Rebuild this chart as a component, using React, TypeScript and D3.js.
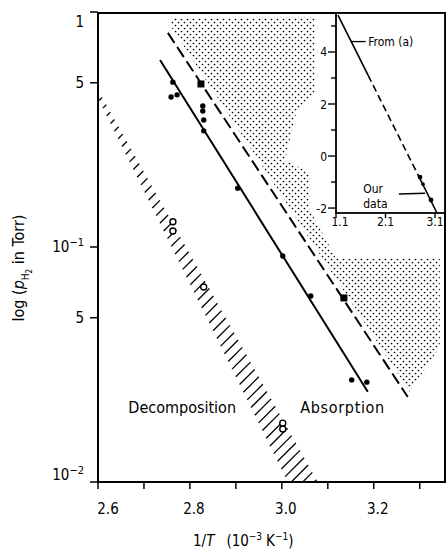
import { useEffect, useRef } from 'react';
import * as d3 from 'd3';

interface Pt {
  x: number;
  y: number;
}

// main panel: 1/T (10^-3 K^-1) against p_H2 (Torr, log)
const absorptionDots: Pt[] = [
  { x: 2.763, y: 0.503 },
  { x: 2.759, y: 0.435 },
  { x: 2.772, y: 0.444 },
  { x: 2.828, y: 0.398 },
  { x: 2.828, y: 0.379 },
  { x: 2.83, y: 0.347 },
  { x: 2.83, y: 0.312 },
  { x: 2.904, y: 0.178 },
  { x: 3.002, y: 0.0916 },
  { x: 3.063, y: 0.0619 },
  { x: 3.152, y: 0.0272 },
  { x: 3.185, y: 0.0266 },
];
const absorptionSquares: Pt[] = [
  { x: 2.824, y: 0.494 },
  { x: 3.135, y: 0.0607 },
];
const decompositionPts: Pt[] = [
  { x: 2.763, y: 0.128 },
  { x: 2.763, y: 0.117 },
  { x: 2.83, y: 0.0676 },
  { x: 3.002, y: 0.0178 },
  { x: 3.002, y: 0.0168 },
];
const absorptionFit: Pt[] = [
  { x: 2.735, y: 0.625 },
  { x: 3.187, y: 0.0242 },
];
const boundaryLine: Pt[] = [
  { x: 2.752, y: 0.815 },
  { x: 3.274, y: 0.023 },
];
// hatched decomposition band: lower-left and upper-right edges
const decompLower: Pt[] = [
  { x: 2.6, y: 0.43 },
  { x: 3.013, y: 0.01 },
];
const decompUpper: Pt[] = [
  { x: 2.6, y: 0.466 },
  { x: 3.078, y: 0.01 },
];
// dotted absorption region outline
const absorptionRegion: Pt[] = [
  { x: 2.7565, y: 0.943 },
  { x: 3.0717, y: 0.952 },
  { x: 3.0717, y: 0.457 },
  { x: 3.0326, y: 0.383 },
  { x: 3.0065, y: 0.234 },
  { x: 3.0609, y: 0.208 },
  { x: 3.0609, y: 0.1437 },
  { x: 3.0826, y: 0.1205 },
  { x: 3.1174, y: 0.0897 },
  { x: 3.3435, y: 0.0897 },
  { x: 3.3435, y: 0.0375 },
  { x: 3.2783, y: 0.0242 },
  { x: 2.7609, y: 0.855 },
];
const xTicks = [2.6, 2.7, 2.8, 2.9, 3.0, 3.1, 3.2, 3.3];
const xLabels = [2.6, 2.8, 3.0, 3.2];
const yTicks = [1, 0.5, 0.1, 0.05, 0.01];
const yLabels = ['1', '5', '10^-1', '5', '10^-2'];

// inset
const insetFromA: Pt[] = [
  { x: 1.14, y: 5.42 },
  { x: 1.75, y: 3.1 },
];
const insetExtrap: Pt[] = [
  { x: 1.75, y: 3.1 },
  { x: 2.79, y: -0.85 },
];
const insetOurFit: Pt[] = [
  { x: 2.79, y: -0.85 },
  { x: 3.14, y: -2.19 },
];
const insetDots: Pt[] = [
  { x: 2.797, y: -0.81 },
  { x: 2.858, y: -1.08 },
  { x: 3.019, y: -1.69 },
];
const insetXTicks = [1.1, 2.1, 3.1];
const insetYMajor = [4, 2, 0, -2];
const insetYMinor = [5, 3, 1, -1];

const FONT = "'DejaVu Sans Condensed', 'DejaVu Sans', sans-serif";

export default function App() {
  const svgRef = useRef<SVGSVGElement>(null);

  useEffect(() => {
    if (!svgRef.current) return;
    const svg = d3.select(svgRef.current);
    svg.selectAll('*').remove();

    const left = 98, top = 13, right = 445, bottom = 482;
    const x = d3.scaleLinear().domain([2.6, 3.355]).range([left, right]);
    const y = d3.scaleLog().domain([0.01, 1]).range([bottom, 12]);
    const line = d3.line<Pt>().x(d => x(d.x)).y(d => y(d.y));

    const defs = svg.append('defs');
    defs.append('clipPath').attr('id', 'plotClip')
      .append('rect')
      .attr('x', left).attr('y', top)
      .attr('width', right - left).attr('height', bottom - top);
    const pat = defs.append('pattern')
      .attr('id', 'dots')
      .attr('patternUnits', 'userSpaceOnUse')
      .attr('width', 6).attr('height', 6);
    pat.append('circle').attr('cx', 1.5).attr('cy', 1.5).attr('r', 0.85).attr('fill', '#000');
    pat.append('circle').attr('cx', 4.5).attr('cy', 4.5).attr('r', 0.85).attr('fill', '#000');

    const plot = svg.append('g').attr('clip-path', 'url(#plotClip)');

    // dotted absorption area
    plot.append('path')
      .datum(absorptionRegion)
      .attr('d', d3.line<Pt>().x(d => x(d.x)).y(d => y(d.y)).curve(d3.curveLinearClosed))
      .attr('fill', 'url(#dots)');

    // hatched decomposition band
    const L0 = [x(decompLower[0].x), y(decompLower[0].y)];
    const L1 = [x(decompLower[1].x), y(decompLower[1].y)];
    const U0 = [x(decompUpper[0].x), y(decompUpper[0].y)];
    const U1 = [x(decompUpper[1].x), y(decompUpper[1].y)];
    const a = (45 * Math.PI) / 180;
    const u = [Math.cos(a), -Math.sin(a)];
    const dU = [U1[0] - U0[0], U1[1] - U0[1]];
    const cross = (p: number[], q: number[]) => p[0] * q[1] - p[1] * q[0];
    const nStrokes = 50;
    const strokes = d3.range(0, nStrokes + 4).map(i => {
      const t = (i + 0.3) / nStrokes;
      const P = [L0[0] + t * (L1[0] - L0[0]), L0[1] + t * (L1[1] - L0[1])];
      const s = cross([U0[0] - P[0], U0[1] - P[1]], dU) / cross(u, dU);
      return { x1: P[0], y1: P[1], x2: P[0] + s * u[0], y2: P[1] + s * u[1] };
    });
    plot.append('g')
      .selectAll('line')
      .data(strokes)
      .enter().append('line')
      .attr('x1', d => d.x1).attr('y1', d => d.y1)
      .attr('x2', d => d.x2).attr('y2', d => d.y2)
      .attr('stroke', '#000')
      .attr('stroke-width', 1.3);

    // fit line and dashed boundary
    plot.append('path')
      .datum(absorptionFit)
      .attr('d', line)
      .attr('fill', 'none')
      .attr('stroke', '#000')
      .attr('stroke-width', 2);
    plot.append('path')
      .datum(boundaryLine)
      .attr('d', line)
      .attr('fill', 'none')
      .attr('stroke', '#000')
      .attr('stroke-width', 2)
      .attr('stroke-dasharray', '12,5');

    // points
    plot.append('g')
      .selectAll('circle')
      .data(absorptionDots)
      .enter().append('circle')
      .attr('cx', d => x(d.x)).attr('cy', d => y(d.y))
      .attr('r', 2.7)
      .attr('fill', '#000');
    plot.append('g')
      .selectAll('rect')
      .data(absorptionSquares)
      .enter().append('rect')
      .attr('x', d => x(d.x) - 3.5).attr('y', d => y(d.y) - 3.5)
      .attr('width', 7).attr('height', 7)
      .attr('fill', '#000');
    plot.append('g')
      .selectAll('circle')
      .data(decompositionPts)
      .enter().append('circle')
      .attr('cx', d => x(d.x)).attr('cy', d => y(d.y))
      .attr('r', 3)
      .attr('fill', '#fff')
      .attr('stroke', '#000')
      .attr('stroke-width', 1.4);

    // region labels
    svg.append('text')
      .attr('x', x(2.666)).attr('y', y(0.0197))
      .attr('font-family', FONT).attr('font-size', 16)
      .text('Decomposition');
    svg.append('text')
      .attr('x', x(3.04)).attr('y', y(0.0197))
      .attr('font-family', FONT).attr('font-size', 16)
      .attr('textLength', 84)
      .text('Absorption');

    // frame and axes
    svg.append('rect')
      .attr('x', left).attr('y', top)
      .attr('width', right - left).attr('height', bottom - top)
      .attr('fill', 'none')
      .attr('stroke', '#000')
      .attr('stroke-width', 2);

    const xAxis = svg.append('g');
    xAxis.selectAll('line')
      .data(xTicks)
      .enter().append('line')
      .attr('x1', d => x(d)).attr('x2', d => x(d))
      .attr('y1', bottom).attr('y2', bottom + 7)
      .attr('stroke', '#000').attr('stroke-width', 1.5);
    xAxis.selectAll('text')
      .data(xLabels)
      .enter().append('text')
      .attr('x', d => x(d) + (d === 2.6 ? 10 : 4))
      .attr('y', bottom + 32)
      .attr('text-anchor', 'middle')
      .attr('font-family', FONT).attr('font-size', 15)
      .text(d => d3.format('.1f')(d));

    const yAxis = svg.append('g');
    yAxis.selectAll('line')
      .data(yTicks)
      .enter().append('line')
      .attr('x1', left - 8).attr('x2', left)
      .attr('y1', d => y(d)).attr('y2', d => y(d))
      .attr('stroke', '#000').attr('stroke-width', 1.5);
    const yl = yAxis.selectAll('text')
      .data(yTicks)
      .enter().append('text')
      .attr('x', left - 14)
      .attr('y', (d, i) => y(d) + 5 + (i === 0 ? 10 : 0) + (i === yTicks.length - 1 ? -7 : 0))
      .attr('text-anchor', 'end')
      .attr('font-family', FONT).attr('font-size', 15);
    yl.each(function (_d, i) {
      const parts = yLabels[i].split('^');
      const t = d3.select(this);
      t.append('tspan').text(parts[0]);
      if (parts[1]) {
        t.append('tspan').attr('dy', -6).attr('font-size', 11).text(parts[1].replace('-', '\u2212'));
      }
    });

    // axis titles
    const xt = svg.append('text')
      .attr('x', 193).attr('y', 546)
      .attr('font-family', FONT).attr('font-size', 15);
    xt.append('tspan').text('1/');
    xt.append('tspan').attr('font-style', 'italic').text('T');
    xt.append('tspan').attr('dx', 12).text('(10');
    xt.append('tspan').attr('dy', -6).attr('font-size', 10).text('\u22123');
    xt.append('tspan').attr('dy', 6).attr('dx', 4).text('K');
    xt.append('tspan').attr('dy', -6).attr('font-size', 10).text('\u22121');
    xt.append('tspan').attr('dy', 6).text(')');

    const yt = svg.append('text')
      .attr('transform', 'translate(24,268) rotate(-90)')
      .attr('text-anchor', 'middle')
      .attr('font-family', FONT).attr('font-size', 16);
    yt.append('tspan').text('log (');
    yt.append('tspan').attr('font-style', 'italic').text('p');
    yt.append('tspan').attr('dy', 5).attr('font-size', 10).text('H');
    yt.append('tspan').attr('dy', 3).attr('font-size', 8).text('2');
    yt.append('tspan').attr('dy', -8).text('  in Torr)');

    // inset
    const iLeft = 336, iTop = 13, iRight = 445, iBottom = 213;
    const xi = d3.scaleLinear().domain([1.1, 3.302]).range([iLeft, iRight]);
    const yi = d3.scaleLinear().domain([-2.19, 5.46]).range([iBottom, iTop + 1]);
    const iline = d3.line<Pt>().x(d => xi(d.x)).y(d => yi(d.y));
    const inset = svg.append('g');
    inset.append('rect')
      .attr('x', iLeft).attr('y', iTop)
      .attr('width', iRight - iLeft).attr('height', iBottom - iTop)
      .attr('fill', '#fff')
      .attr('stroke', '#000')
      .attr('stroke-width', 1.8);
    inset.append('path').datum(insetFromA).attr('d', iline)
      .attr('fill', 'none').attr('stroke', '#000').attr('stroke-width', 1.6);
    inset.append('path').datum(insetExtrap).attr('d', iline)
      .attr('fill', 'none').attr('stroke', '#000').attr('stroke-width', 1.6)
      .attr('stroke-dasharray', '7,4');
    inset.append('path').datum(insetOurFit).attr('d', iline)
      .attr('fill', 'none').attr('stroke', '#000').attr('stroke-width', 1.6);
    inset.selectAll('circle')
      .data(insetDots)
      .enter().append('circle')
      .attr('cx', d => xi(d.x)).attr('cy', d => yi(d.y))
      .attr('r', (_d, i) => (i === 1 ? 1.8 : 2.4))
      .attr('fill', '#000');

    inset.selectAll('.ymaj')
      .data(insetYMajor)
      .enter().append('line')
      .attr('x1', iLeft - 8).attr('x2', iLeft)
      .attr('y1', d => yi(d)).attr('y2', d => yi(d))
      .attr('stroke', '#000').attr('stroke-width', 1.4);
    inset.selectAll('.ymin')
      .data(insetYMinor)
      .enter().append('line')
      .attr('x1', iLeft - 5).attr('x2', iLeft)
      .attr('y1', d => yi(d)).attr('y2', d => yi(d))
      .attr('stroke', '#000').attr('stroke-width', 1.4);
    inset.selectAll('.ylab')
      .data(insetYMajor)
      .enter().append('text')
      .attr('x', iLeft - 9).attr('y', d => yi(d) + 4.5)
      .attr('text-anchor', 'end')
      .attr('font-family', FONT).attr('font-size', 12)
      .text(d => (d < 0 ? '-' + Math.abs(d) : String(d)));
    inset.selectAll('.xt')
      .data(insetXTicks)
      .enter().append('line')
      .attr('x1', d => xi(d)).attr('x2', d => xi(d))
      .attr('y1', iBottom).attr('y2', iBottom + 5)
      .attr('stroke', '#000').attr('stroke-width', 1.4);
    inset.selectAll('.xlab')
      .data(insetXTicks)
      .enter().append('text')
      .attr('x', (d, i) => xi(d) + (i === 0 ? 4 : 0))
      .attr('y', iBottom + 13)
      .attr('text-anchor', 'middle')
      .attr('font-family', FONT).attr('font-size', 12)
      .text(d => d3.format('.1f')(d));

    // inset annotations
    inset.append('line')
      .attr('x1', xi(1.4)).attr('x2', xi(1.7))
      .attr('y1', yi(4.4)).attr('y2', yi(4.4))
      .attr('stroke', '#000').attr('stroke-width', 1.3);
    inset.append('text')
      .attr('x', xi(1.75)).attr('y', yi(4.4) + 4.5)
      .attr('font-family', FONT).attr('font-size', 12)
      .text('From (a)');
    inset.append('line')
      .attr('x1', xi(2.37)).attr('x2', xi(2.9))
      .attr('y1', yi(-1.46)).attr('y2', yi(-1.43))
      .attr('stroke', '#000').attr('stroke-width', 1.3);
    inset.append('text')
      .attr('x', xi(1.65)).attr('y', yi(-1.42))
      .attr('font-family', FONT).attr('font-size', 12)
      .text('Our');
    inset.append('text')
      .attr('x', xi(1.65)).attr('y', yi(-1.98))
      .attr('font-family', FONT).attr('font-size', 12)
      .text('data');
  }, []);

  return (
    <svg
      ref={svgRef}
      width={446}
      height={551}
      style={{ position: 'absolute', left: 0, top: 0, background: '#fff' }}
    />
  );
}
